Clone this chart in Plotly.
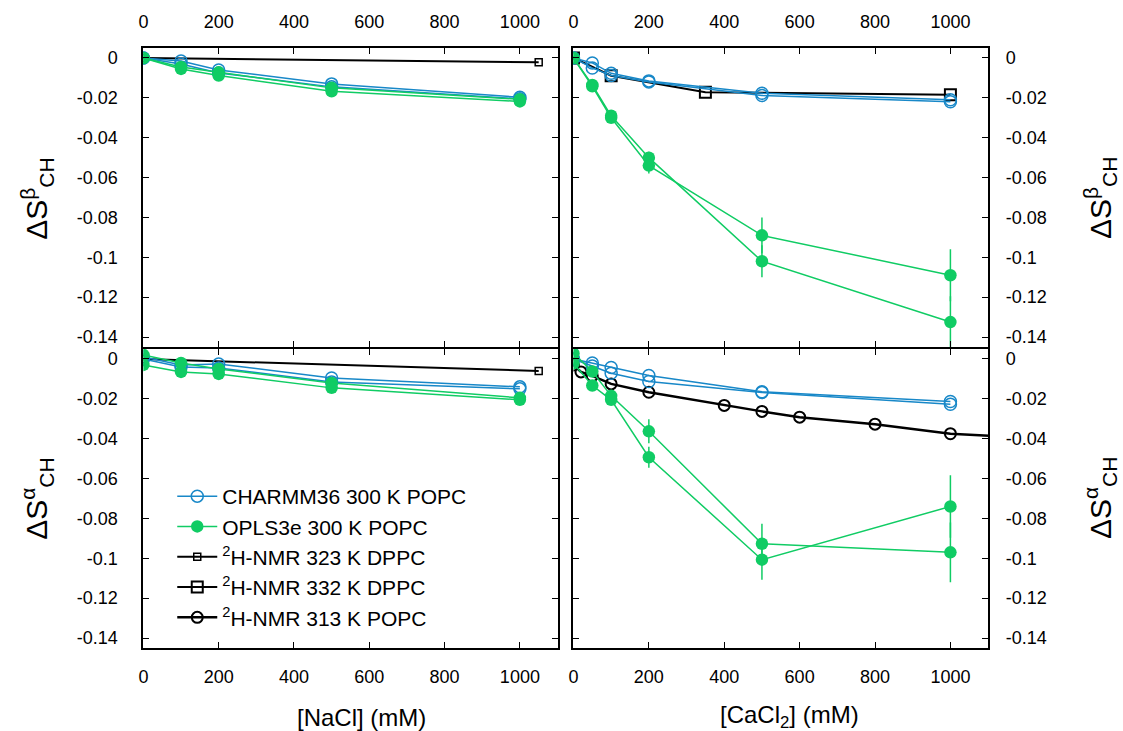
import plotly.graph_objects as go

# ---------------- data ----------------
nacl_sim = [0, 100, 200, 500, 1000]
cacl_sim = [0, 50, 100, 200, 500, 1000]

# beta, NaCl
b_na_charmm_1 = [0, -0.0015, -0.006, -0.013, -0.0197]
b_na_charmm_2 = [0, -0.003, -0.0075, -0.0145, -0.0205]
b_na_opls_1 = [0, -0.0045, -0.0072, -0.015, -0.0207]
b_na_opls_2 = [0, -0.0055, -0.0088, -0.0167, -0.0218]
b_na_opls_err_1 = [0.0005, 0.0008, 0.0008, 0.001, 0.001]
b_na_opls_err_2 = [0.0005, 0.0008, 0.0008, 0.001, 0.001]
nmr323_x = [0, 1050]
b_na_nmr323 = [0, -0.0022]

# alpha, NaCl
a_na_charmm_1 = [0.001, -0.003, -0.0025, -0.0095, -0.014]
a_na_charmm_2 = [0, -0.004, -0.0045, -0.0115, -0.015]
a_na_opls_1 = [0.002, -0.002, -0.005, -0.012, -0.0195]
a_na_opls_2 = [-0.003, -0.0065, -0.0075, -0.0145, -0.0205]
a_na_opls_err_1 = [0.0008, 0.001, 0.001, 0.001, 0.001]
a_na_opls_err_2 = [0.0008, 0.001, 0.001, 0.001, 0.001]
a_na_nmr323 = [0, -0.006]

# beta, CaCl2
b_ca_charmm_1 = [0, -0.0025, -0.0077, -0.0115, -0.0177, -0.021]
b_ca_charmm_2 = [0, -0.005, -0.0088, -0.012, -0.0188, -0.022]
b_ca_opls_1 = [0, -0.0135, -0.029, -0.050, -0.102, -0.1325]
b_ca_opls_2 = [0, -0.0142, -0.030, -0.054, -0.089, -0.109]
b_ca_opls_err_1 = [0.001, 0.0015, 0.002, 0.003, 0.008, 0.013]
b_ca_opls_err_2 = [0.001, 0.0015, 0.002, 0.004, 0.009, 0.013]
nmr332_x = [0, 100, 350, 1000]
b_ca_nmr332 = [0, -0.0089, -0.0172, -0.0185]

# alpha, CaCl2
a_ca_charmm_1 = [0, -0.002, -0.0043, -0.0083, -0.0165, -0.0213]
a_ca_charmm_2 = [0, -0.0035, -0.0072, -0.0113, -0.0168, -0.0227]
a_ca_opls_1 = [0.0028, -0.0063, -0.0185, -0.0363, -0.0927, -0.097]
a_ca_opls_2 = [-0.0022, -0.0133, -0.0205, -0.0493, -0.1007, -0.074]
a_ca_opls_err_1 = [0.001, 0.0015, 0.002, 0.006, 0.010, 0.015]
a_ca_opls_err_2 = [0.001, 0.0015, 0.002, 0.0053, 0.010, 0.0157]
nmr313_x = [0, 20, 50, 100, 200, 400, 500, 600, 800, 1000, 2000]
a_ca_nmr313 = [-0.003, -0.0065, -0.0085, -0.0125, -0.0167, -0.0233,
               -0.0263, -0.0292, -0.0327, -0.0375, -0.0475]

x_tickvals = [0, 200, 400, 600, 800, 1000]
y_tickvals = [0, -0.02, -0.04, -0.06, -0.08, -0.1, -0.12, -0.14]
y_ticktext = ["0", "-0.02", "-0.04", "-0.06", "-0.08", "-0.1", "-0.12", "-0.14"]

legend_names = ["CHARMM36 300 K POPC", "OPLS3e 300 K POPC",
                "<sup>2</sup>H-NMR 323 K DPPC", "<sup>2</sup>H-NMR 332 K DPPC",
                "<sup>2</sup>H-NMR 313 K POPC"]

# ---------------- style ----------------
BLUE = "#1888c8"
GREEN = "#10cc64"
BLACK = "#000000"
FONT = "Liberation Sans, Arial, sans-serif"
W, H = 1123, 731

fig = go.Figure()


def add_charmm(x, y, xa, ya, show):
    fig.add_trace(go.Scatter(
        x=x, y=y, xaxis=xa, yaxis=ya, mode="lines+markers",
        line=dict(color=BLUE, width=1.5),
        marker=dict(symbol="circle-open", size=12, color=BLUE, line=dict(width=1.5)),
        name=legend_names[0], legendgroup="c", showlegend=show, legendrank=1))


def add_opls(x, y, err, xa, ya, show):
    fig.add_trace(go.Scatter(
        x=x, y=y, xaxis=xa, yaxis=ya, mode="lines+markers",
        line=dict(color=GREEN, width=1.5),
        marker=dict(symbol="circle", size=12.5, color=GREEN),
        error_y=dict(type="data", array=err, color=GREEN, thickness=1.5, width=0),
        name=legend_names[1], legendgroup="o", showlegend=show, legendrank=2))


def add_nmr323(x, y, xa, ya, show):
    fig.add_trace(go.Scatter(
        x=x, y=y, xaxis=xa, yaxis=ya, mode="lines+markers",
        line=dict(color=BLACK, width=2),
        marker=dict(symbol="square-open", size=7, color=BLACK, line=dict(width=1.5)),
        name=legend_names[2], legendgroup="n323", showlegend=show, legendrank=3))


def add_nmr332(x, y, xa, ya, show):
    fig.add_trace(go.Scatter(
        x=x, y=y, xaxis=xa, yaxis=ya, mode="lines+markers",
        line=dict(color=BLACK, width=2),
        marker=dict(symbol="square-open", size=11, color=BLACK, line=dict(width=2)),
        name=legend_names[3], legendgroup="n332", showlegend=show, legendrank=4))


def add_nmr313(x, y, xa, ya, show):
    fig.add_trace(go.Scatter(
        x=x, y=y, xaxis=xa, yaxis=ya, mode="lines+markers",
        line=dict(color=BLACK, width=2.5),
        marker=dict(symbol="circle-open", size=11, color=BLACK, line=dict(width=2)),
        name=legend_names[4], legendgroup="n313", showlegend=show, legendrank=5))


# top-left: beta vs NaCl (x, y)
add_nmr323(nmr323_x, b_na_nmr323, "x", "y", True)
add_charmm(nacl_sim, b_na_charmm_1, "x", "y", True)
add_charmm(nacl_sim, b_na_charmm_2, "x", "y", False)
add_opls(nacl_sim, b_na_opls_1, b_na_opls_err_1, "x", "y", True)
add_opls(nacl_sim, b_na_opls_2, b_na_opls_err_2, "x", "y", False)

# top-right: beta vs CaCl2 (x2, y2)
add_nmr332(nmr332_x, b_ca_nmr332, "x2", "y2", True)
add_charmm(cacl_sim, b_ca_charmm_1, "x2", "y2", False)
add_charmm(cacl_sim, b_ca_charmm_2, "x2", "y2", False)
add_opls(cacl_sim, b_ca_opls_1, b_ca_opls_err_1, "x2", "y2", False)
add_opls(cacl_sim, b_ca_opls_2, b_ca_opls_err_2, "x2", "y2", False)

# bottom-left: alpha vs NaCl (x3, y3)
add_nmr323(nmr323_x, a_na_nmr323, "x3", "y3", False)
add_charmm(nacl_sim, a_na_charmm_1, "x3", "y3", False)
add_charmm(nacl_sim, a_na_charmm_2, "x3", "y3", False)
add_opls(nacl_sim, a_na_opls_1, a_na_opls_err_1, "x3", "y3", False)
add_opls(nacl_sim, a_na_opls_2, a_na_opls_err_2, "x3", "y3", False)

# bottom-right: alpha vs CaCl2 (x4, y4)
add_nmr313(nmr313_x, a_ca_nmr313, "x4", "y4", True)
add_charmm(cacl_sim, a_ca_charmm_1, "x4", "y4", False)
add_charmm(cacl_sim, a_ca_charmm_2, "x4", "y4", False)
add_opls(cacl_sim, a_ca_opls_1, a_ca_opls_err_1, "x4", "y4", False)
add_opls(cacl_sim, a_ca_opls_2, a_ca_opls_err_2, "x4", "y4", False)

# ---------------- layout ----------------
xl = [139 / W, 555 / W]
xr = [571 / W, 987.5 / W]
yt = [1 - 347 / H, 1 - 48 / H]
yb = [1 - 648 / H, 1 - 349 / H]

tickfont = dict(family=FONT, size=18, color="black")
common_x = dict(range=[0, 1100], tickvals=x_tickvals, ticks="inside", ticklen=6,
                tickwidth=1.2, tickcolor="black", showline=True, linecolor="black",
                linewidth=2, mirror="allticks", showgrid=False, zeroline=False,
                tickfont=tickfont)
common_y = dict(range=[-0.145, 0.005], tickvals=y_tickvals, ticktext=y_ticktext,
                ticks="inside", ticklen=6, tickwidth=1.2, tickcolor="black",
                showline=True, linecolor="black", linewidth=2, mirror="allticks",
                showgrid=False, zeroline=False, tickfont=tickfont)

fig.update_layout(
    width=W, height=H, margin=dict(l=0, r=0, t=0, b=0),
    paper_bgcolor="white", plot_bgcolor="white",
    font=dict(family=FONT, color="black"),
    xaxis=dict(common_x, domain=xl, anchor="y", side="top", ticklabelstandoff=11),
    yaxis=dict(common_y, domain=yt, anchor="x", side="left", ticklabelstandoff=20),
    xaxis2=dict(common_x, domain=xr, anchor="y2", side="top", ticklabelstandoff=11),
    yaxis2=dict(common_y, domain=yt, anchor="x2", side="right", ticklabelstandoff=12),
    xaxis3=dict(common_x, domain=xl, anchor="y3", side="bottom", ticklabelstandoff=11),
    yaxis3=dict(common_y, domain=yb, anchor="x3", side="left", ticklabelstandoff=20),
    xaxis4=dict(common_x, domain=xr, anchor="y4", side="bottom", ticklabelstandoff=11),
    yaxis4=dict(common_y, domain=yb, anchor="x4", side="right", ticklabelstandoff=12),
    legend=dict(x=168 / W, y=1 - 476 / H, xanchor="left", yanchor="top",
                bgcolor="rgba(0,0,0,0)", font=dict(family=FONT, size=21),
                tracegroupgap=0, itemwidth=40, traceorder="normal"),
    showlegend=True,
)

annotations = [
    dict(text="[NaCl] (mM)", x=358 / W, y=1 - 717 / H, size=24),
    dict(text="[CaCl<sub>2</sub>] (mM)", x=788 / W, y=1 - 716 / H, size=24),
    dict(text="ΔS<sup>β</sup><sub>CH</sub>", x=32 / W, y=1 - 198 / H, textangle=-90, size=30),
    dict(text="ΔS<sup>α</sup><sub>CH</sub>", x=32 / W, y=1 - 498 / H, textangle=-90, size=30),
    dict(text="ΔS<sup>β</sup><sub>CH</sub>", x=1100 / W, y=1 - 198 / H, textangle=-90, size=30),
    dict(text="ΔS<sup>α</sup><sub>CH</sub>", x=1100 / W, y=1 - 498 / H, textangle=-90, size=30),
]
for a in annotations:
    size = a.pop("size")
    fig.add_annotation(xref="paper", yref="paper", showarrow=False,
                       xanchor="center", yanchor="middle",
                       font=dict(family=FONT, size=size, color="black"), **a)

fig.write_html("out.html")
